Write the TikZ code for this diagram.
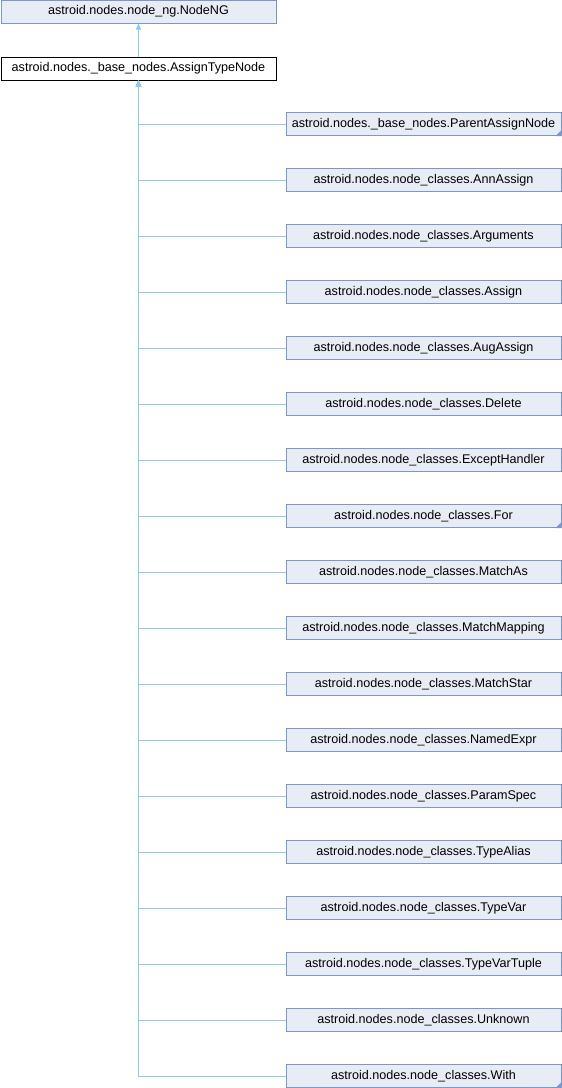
\documentclass[tikz,border=0pt]{standalone}
\usepackage{fontspec}
\setmainfont{Liberation Sans}
\usepackage{tikz}
\usetikzlibrary{positioning}
\usetikzlibrary{arrows.meta}
\definecolor{boxfill}{HTML}{E8ECF4}
\definecolor{boxline}{HTML}{7C96CA}
\definecolor{edgeblue}{HTML}{8FCAE8}
\tikzset{
    classbox/.style={shape=rectangle,draw=boxline,fill=boxfill,line width=1pt,
        minimum width=275pt,minimum height=23pt,inner sep=0pt,
        font=\fontsize{12.6}{14}\selectfont},
    thisbox/.style={classbox,draw=black,fill=white},
    inherit/.style={draw=edgeblue,line width=1pt,{Triangle[length=6pt,width=5pt]}-},
}

\begin{document}
\begin{tikzpicture}[x=1pt,y=-1pt]
    \useasboundingbox (0,0) rectangle (562,1088);
    \node[classbox] (NodeNG) at (138.5,11.5) {astroid.nodes.node\_ng.NodeNG};
    \node[thisbox] (AssignTypeNode) at (138.5,68.5) {astroid.nodes.\_base\_nodes.AssignTypeNode};

    \draw [inherit] (NodeNG) -- (AssignTypeNode);

    % derived classes
    \foreach \name/\txt [count=\i] in {
        ParentAssignNode/astroid.nodes.\_base\_nodes.ParentAssignNode,
        AnnAssign/astroid.nodes.node\_classes.AnnAssign,
        Arguments/astroid.nodes.node\_classes.Arguments,
        Assign/astroid.nodes.node\_classes.Assign,
        AugAssign/astroid.nodes.node\_classes.AugAssign,
        Delete/astroid.nodes.node\_classes.Delete,
        ExceptHandler/astroid.nodes.node\_classes.ExceptHandler,
        For/astroid.nodes.node\_classes.For,
        MatchAs/astroid.nodes.node\_classes.MatchAs,
        MatchMapping/astroid.nodes.node\_classes.MatchMapping,
        MatchStar/astroid.nodes.node\_classes.MatchStar,
        NamedExpr/astroid.nodes.node\_classes.NamedExpr,
        ParamSpec/astroid.nodes.node\_classes.ParamSpec,
        TypeAlias/astroid.nodes.node\_classes.TypeAlias,
        TypeVar/astroid.nodes.node\_classes.TypeVar,
        TypeVarTuple/astroid.nodes.node\_classes.TypeVarTuple,
        Unknown/astroid.nodes.node\_classes.Unknown,
        With/astroid.nodes.node\_classes.With}
    {
        \node[classbox] (\name) at (423.5,68+56*\i) {\txt};
        \draw [inherit] (AssignTypeNode.south) |- (\name.west);
    }

    % corner marks for classes with more children
    \foreach \name in {ParentAssignNode,For,With}
        \fill[boxline] (\name.south east) -- ++(-6,0) -- ++(6,-6) -- cycle;
\end{tikzpicture}
\end{document}
